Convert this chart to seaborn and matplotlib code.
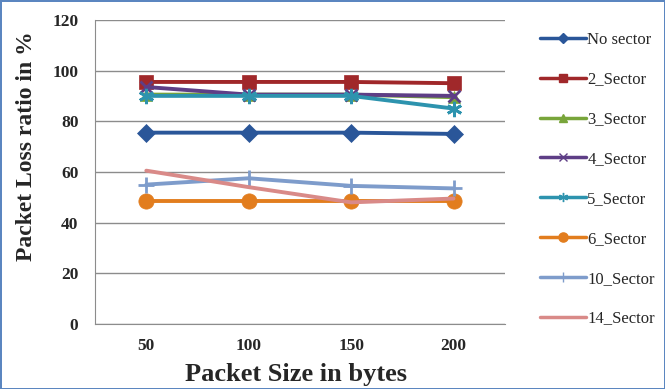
import pandas as pd
import seaborn as sns
import matplotlib.pyplot as plt
from matplotlib.lines import Line2D

sizes = ['50', '100', '150', '200']
no_sector = [75.5, 75.5, 75.5, 75.0]
sector_2 = [95.5, 95.5, 95.5, 95.0]
sector_3 = [90.5, 90.5, 90.5, 89.5]
sector_4 = [93.5, 90.5, 90.5, 90.0]
sector_5 = [90.0, 90.0, 90.0, 85.0]
sector_6 = [48.5, 48.5, 48.5, 48.5]
sector_10 = [55.0, 57.5, 54.5, 53.5]
sector_14 = [60.5, 54.0, 48.0, 49.5]

series = {'No sector': no_sector, '2_Sector': sector_2, '3_Sector': sector_3,
          '4_Sector': sector_4, '5_Sector': sector_5, '6_Sector': sector_6,
          '10_Sector': sector_10, '14_Sector': sector_14}
colors = {'No sector': '#2A5699', '2_Sector': '#A0282A', '3_Sector': '#78A53A',
          '4_Sector': '#5E3E86', '5_Sector': '#2D93AE', '6_Sector': '#E27D1E',
          '10_Sector': '#7E9CCB', '14_Sector': '#D98A88'}
markers = {'No sector': 'D', '2_Sector': 's', '3_Sector': '^', '4_Sector': 'x',
           '5_Sector': (6, 2, 0), '6_Sector': 'o', '10_Sector': '+', '14_Sector': None}
msizes = {'No sector': 9, '2_Sector': 10, '3_Sector': 9, '4_Sector': 9,
          '5_Sector': 11, '6_Sector': 11, '10_Sector': 12, '14_Sector': 0}

sns.set_style("white")
plt.rcParams['font.family'] = ['Liberation Serif', 'DejaVu Serif']

fig = plt.figure(figsize=(6.65, 3.89), dpi=100)
fig.patch.set_edgecolor('#5B86C0')
fig.patch.set_linewidth(2)
ax = fig.add_axes([0.143, 0.167, 0.616, 0.782])

handles = []
for name, vals in series.items():
    df = pd.DataFrame({'size': sizes, 'loss': vals})
    sns.lineplot(x='size', y='loss', data=df, ax=ax, color=colors[name],
                 marker=markers[name], markersize=msizes[name], linewidth=2.8,
                 markeredgewidth=2 if name in ('4_Sector', '5_Sector', '10_Sector') else 0.5,
                 markeredgecolor=colors[name], legend=False)
    handles.append(Line2D([], [], color=colors[name], marker=markers[name],
                          markersize=msizes[name] * 0.6, linewidth=2.5,
                          markeredgecolor=colors[name], label=name))

ax.set_xlim(-0.5, 3.5)
ax.set_ylim(0, 120)
ax.set_yticks([0, 20, 40, 60, 80, 100, 120])
ax.yaxis.grid(True, color='#8C8C8C', linewidth=1)
ax.set_axisbelow(True)
for s in ['top', 'right']:
    ax.spines[s].set_visible(False)
ax.spines['left'].set_color('#8C8C8C')
ax.spines['bottom'].set_color('#8C8C8C')
ax.tick_params(axis='y', length=0, labelsize=12.5, pad=12)
ax.tick_params(axis='x', length=0, labelsize=12.5, pad=10)
for lbl in ax.get_xticklabels() + ax.get_yticklabels():
    lbl.set_fontweight('bold')
ax.set_xlabel('Packet Size in bytes', fontsize=19, fontweight='bold')
ax.xaxis.set_label_coords(0.49, -0.128)
ax.set_ylabel('Packet Loss ratio in %', fontsize=17, fontweight='bold')
ax.yaxis.set_label_coords(-0.141, 0.585)

fig.legend(handles=handles, loc='upper left', bbox_to_anchor=(0.789, 0.957),
           frameon=False, fontsize=12, labelspacing=1.43, handlelength=2.8,
           handletextpad=0.05, borderpad=0.4)

plt.savefig('out.png', dpi=100)
plt.close()
